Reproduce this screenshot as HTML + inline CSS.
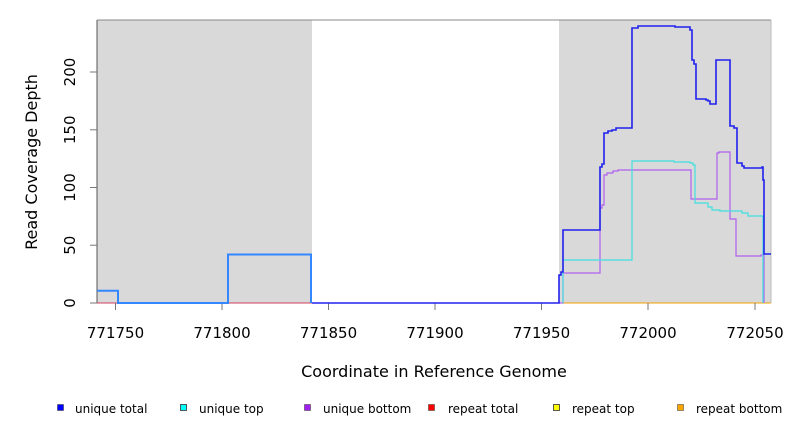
<!DOCTYPE html>
<html><head><meta charset="utf-8"><style>body{margin:0;background:#fff}</style></head><body>
<svg width="792" height="432" xmlns="http://www.w3.org/2000/svg" font-family="DejaVu Sans, Liberation Sans, sans-serif">
<rect x="97" y="20" width="215" height="283" fill="#d9d9d9"/>
<rect x="559" y="20" width="212" height="283" fill="#d9d9d9"/>
<line x1="97" y1="20" x2="771" y2="20" stroke="#888" stroke-width="1"/>
<line x1="97" y1="20" x2="97" y2="303" stroke="#555" stroke-width="1"/>
<line x1="771" y1="20" x2="771" y2="303" stroke="#bbb" stroke-width="1"/>
<line x1="97" y1="303" x2="771" y2="303" stroke="#f0a000" stroke-width="1"/>
<line x1="312" y1="303" x2="559" y2="303" stroke="#6040d0" stroke-width="1"/>
<line x1="97" y1="303" x2="312" y2="303" stroke="#d04060" stroke-width="1"/>
<g stroke="#777" stroke-width="1">
<line x1="90" y1="303" x2="97" y2="303"/><line x1="90" y1="245.2" x2="97" y2="245.2"/><line x1="90" y1="187.5" x2="97" y2="187.5"/><line x1="90" y1="129.8" x2="97" y2="129.8"/><line x1="90" y1="72" x2="97" y2="72"/>
<line x1="115.5" y1="303" x2="115.5" y2="310"/><line x1="222" y1="303" x2="222" y2="310"/><line x1="328.5" y1="303" x2="328.5" y2="310"/><line x1="435" y1="303" x2="435" y2="310"/><line x1="541.5" y1="303" x2="541.5" y2="310"/><line x1="648" y1="303" x2="648" y2="310"/><line x1="755" y1="303" x2="755" y2="310"/>
</g>
<g font-size="15" fill="#000" text-anchor="middle">
<text transform="translate(75,303) rotate(-90)">0</text>
<text transform="translate(75,245.2) rotate(-90)">50</text>
<text transform="translate(75,187.5) rotate(-90)">100</text>
<text transform="translate(75,129.8) rotate(-90)">150</text>
<text transform="translate(75,72) rotate(-90)">200</text>
<text x="115.5" y="338">771750</text><text x="222" y="338">771800</text><text x="328.5" y="338">771850</text><text x="435" y="338">771900</text><text x="541.5" y="338">771950</text><text x="648" y="338">772000</text><text x="755" y="338">772050</text>
<text x="434" y="377" font-size="16">Coordinate in Reference Genome</text>
<text transform="translate(37,162) rotate(-90)" font-size="16">Read Coverage Depth</text>
</g>
<polyline fill="none" stroke="#3388ff" stroke-width="2" points="97,290.7 118,290.7 118,303 228,303 228,254.5 311,254.5 311,303"/>
<polyline fill="none" stroke="#b060ee" stroke-width="1.2" points="559,303 563,303 563,273 600,273 600,208 602,208 602,205 604,205 604,175 607,175 607,173 613,173 613,171 618,171 618,170 691,170 691,199 717,199 717,153 719,153 719,152 730,152 730,219 736,219 736,256 761,256 761,255 764,255 764,303"/>
<polyline fill="none" stroke="#40e0e0" stroke-width="1.2" points="563,303 563,260 632,260 632,161 674,161 674,162 690,162 690,163 693,163 693,165 695,165 695,203 708,203 708,207 712,207 712,210 720,210 720,211 742,211 742,213 748,213 748,216 763,216 763,303"/>
<polyline fill="none" stroke="#2020ee" stroke-width="1.6" points="312,303 559,303 559,275 561,275 561,272 563,272 563,230 600,230 600,167 602,167 602,164 604,164 604,133 608,133 608,131 612,131 612,130 616,130 616,128 632,128 632,28 638,28 638,26 675,26 675,27 690,27 690,30 692,30 692,60 694,60 694,64 696,64 696,99 706,99 706,100 708,100 708,101 710,101 710,104 716,104 716,60 730,60 730,126 734,126 734,128 737,128 737,163 742,163 742,166 744,166 744,168 762,168 762,167 763,167 763,180 764,180 764,254 771,254"/>
<g font-size="12" fill="#000">
<rect x="57.5" y="404.5" width="6" height="6" fill="#0000ff" stroke="#333" stroke-width="0.5"/><text x="75" y="413">unique total</text>
<rect x="180.5" y="404.5" width="6" height="6" fill="#00ffff" stroke="#333" stroke-width="0.8"/><text x="199" y="413">unique top</text>
<rect x="304.5" y="404.5" width="6" height="6" fill="#a020f0" stroke="#333" stroke-width="0.5"/><text x="323" y="413">unique bottom</text>
<rect x="428.5" y="404.5" width="6" height="6" fill="#ff0000" stroke="#333" stroke-width="0.5"/><text x="448" y="413">repeat total</text>
<rect x="553.5" y="404.5" width="6" height="6" fill="#ffff00" stroke="#333" stroke-width="0.8"/><text x="572" y="413">repeat top</text>
<rect x="677.5" y="404.5" width="6" height="6" fill="#ffa500" stroke="#333" stroke-width="0.5"/><text x="696" y="413">repeat bottom</text>
</g>
</svg>
</body></html>
